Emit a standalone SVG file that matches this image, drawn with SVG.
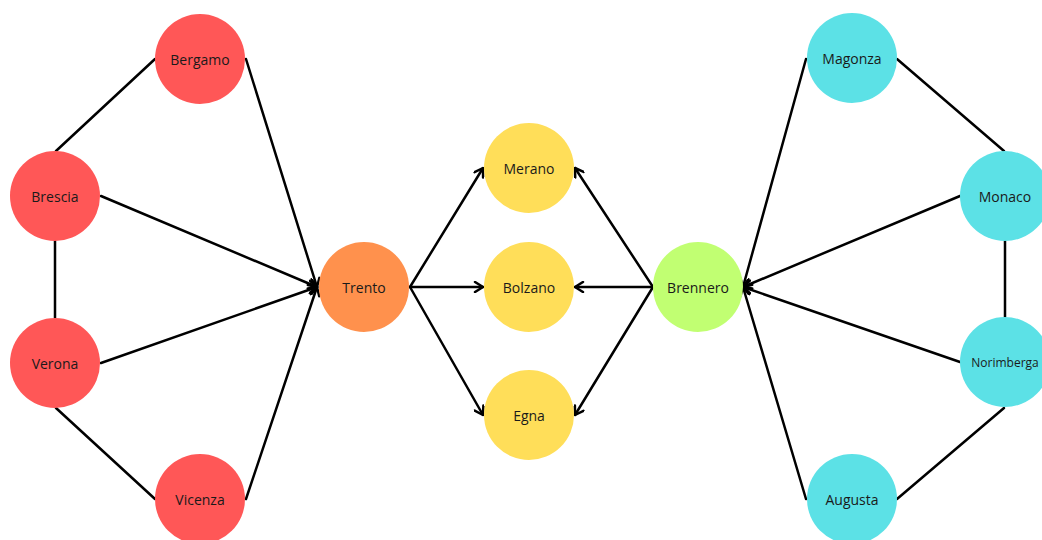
<svg xmlns="http://www.w3.org/2000/svg" width="1042" height="540" viewBox="0 0 1042 540">
<style>
.e{stroke:#000;stroke-width:2.5;fill:none;stroke-linecap:round}
.a{marker-end:url(#ar)}
.t{font-family:"Open Sans","Liberation Sans",sans-serif;font-size:14px;fill:#1a1a1a;text-anchor:middle;dominant-baseline:central}
.red{fill:#FF5757}.or{fill:#FF914D}.ye{fill:#FFDE59}.gr{fill:#C1FF72}.cy{fill:#5CE1E6}
</style>
<defs>
<marker id="ar" viewBox="0 0 12 12" refX="11" refY="6" markerWidth="12" markerHeight="12" markerUnits="userSpaceOnUse" orient="auto">
<path d="M3,1 L11,6 L3,11" fill="none" stroke="#000" stroke-width="2.5" stroke-linecap="round" stroke-linejoin="round"/>
</marker>
</defs>
<rect width="1042" height="540" fill="#fff"/>
<g id="connectors">
<line class="e" x1="155" y1="59" x2="56" y2="151"/>
<line class="e" x1="55" y1="241" x2="55" y2="318"/>
<line class="e" x1="56" y1="408" x2="155" y2="499"/>
<line class="e a" x1="246" y1="59" x2="317" y2="287"/>
<line class="e a" x1="101" y1="196" x2="317" y2="287"/>
<line class="e a" x1="101" y1="363" x2="317" y2="287"/>
<line class="e a" x1="246" y1="499" x2="317" y2="287"/>
<line class="e a" x1="410" y1="287" x2="483" y2="168"/>
<line class="e a" x1="410" y1="287" x2="483" y2="287"/>
<line class="e a" x1="410" y1="287" x2="483" y2="415"/>
<line class="e a" x1="653" y1="287" x2="575" y2="168"/>
<line class="e a" x1="653" y1="287" x2="575" y2="287"/>
<line class="e a" x1="653" y1="287" x2="575" y2="415"/>
<line class="e a" x1="806" y1="59" x2="743" y2="287"/>
<line class="e a" x1="960" y1="196" x2="743" y2="287"/>
<line class="e a" x1="960" y1="362" x2="743" y2="287"/>
<line class="e a" x1="806" y1="499" x2="743" y2="287"/>
<line class="e" x1="897" y1="59" x2="1004" y2="151"/>
<line class="e" x1="1005" y1="241" x2="1005" y2="317"/>
<line class="e" x1="1004" y1="408" x2="897" y2="499"/>
</g>
<g id="bergamo"><circle class="red" cx="200" cy="59" r="45"/><text class="t" x="200" y="59">Bergamo</text></g>
<g id="brescia"><circle class="red" cx="55" cy="196" r="45"/><text class="t" x="55" y="196">Brescia</text></g>
<g id="verona"><circle class="red" cx="55" cy="363" r="45"/><text class="t" x="55" y="363">Verona</text></g>
<g id="vicenza"><circle class="red" cx="200" cy="499" r="45"/><text class="t" x="200" y="499">Vicenza</text></g>
<g id="trento"><circle class="or" cx="364" cy="287" r="45"/><text class="t" x="364" y="287">Trento</text></g>
<g id="merano"><circle class="ye" cx="529" cy="168" r="45"/><text class="t" x="529" y="168">Merano</text></g>
<g id="bolzano"><circle class="ye" cx="529" cy="287" r="45"/><text class="t" x="529" y="287">Bolzano</text></g>
<g id="egna"><circle class="ye" cx="529" cy="415" r="45"/><text class="t" x="529" y="415">Egna</text></g>
<g id="brennero"><circle class="gr" cx="698" cy="287" r="45"/><text class="t" x="698" y="287">Brennero</text></g>
<g id="magonza"><circle class="cy" cx="852" cy="58" r="45"/><text class="t" x="852" y="58">Magonza</text></g>
<g id="monaco"><circle class="cy" cx="1005" cy="196" r="45"/><text class="t" x="1005" y="196">Monaco</text></g>
<g id="norimberga"><circle class="cy" cx="1005" cy="362" r="45"/><text class="t" x="1005" y="362" style="font-size:12px">Norimberga</text></g>
<g id="augusta"><circle class="cy" cx="852" cy="499" r="45"/><text class="t" x="852" y="499">Augusta</text></g>
</svg>
